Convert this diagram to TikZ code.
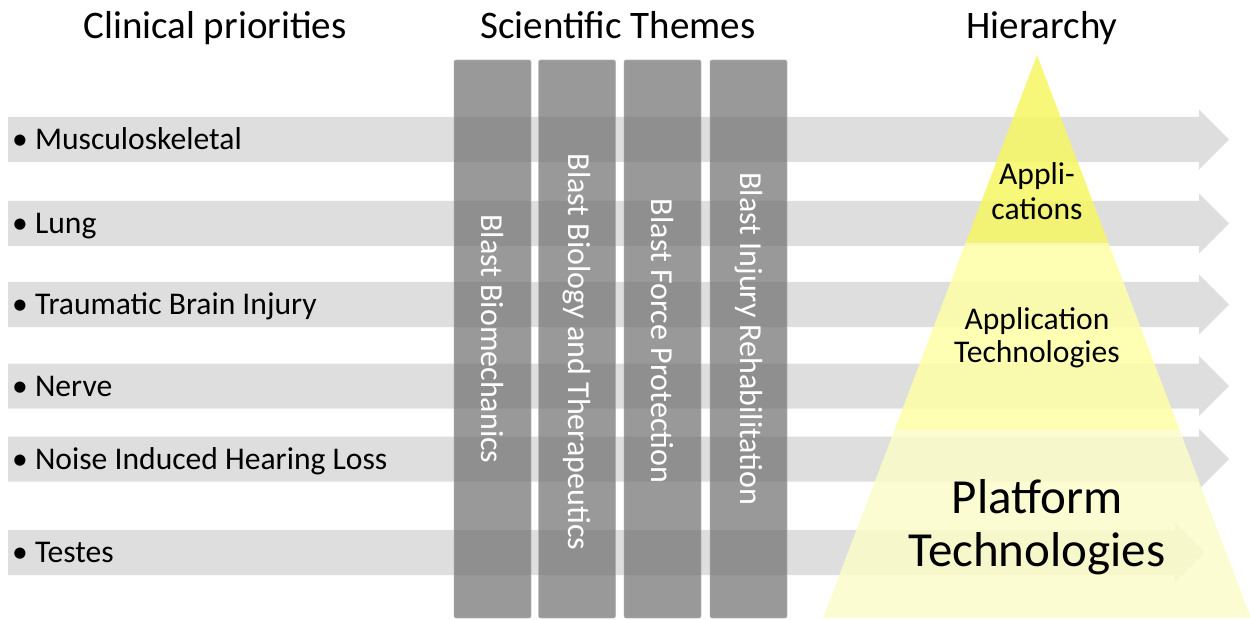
\documentclass[tikz,border=0pt]{standalone}
\usepackage{fontspec}
\setmainfont{Carlito}
\usetikzlibrary{calc}
\definecolor{bandgray}{RGB}{222,222,222}
\definecolor{themegray}{RGB}{110,110,110}
\definecolor{tiertop}{RGB}{246,246,99}
\definecolor{tiermid}{RGB}{255,255,167}
\definecolor{tierlow}{RGB}{252,252,202}
\tikzset{
    band arrow/.style = {fill=bandgray, draw=none, to path={
        ([yshift=22.5pt]\tikztostart) -- ([xshift=-30pt, yshift=22.5pt]\tikztotarget)
        -- ([xshift=-30pt, yshift=30pt]\tikztotarget) -- (\tikztotarget)
        -- ([xshift=-30pt, yshift=-30pt]\tikztotarget) -- ([xshift=-30pt, yshift=-22.5pt]\tikztotarget)
        -- ([yshift=-22.5pt]\tikztostart) -- cycle}},
}
\tikzset{
    heading/.style = {font=\fontsize{39}{45}\selectfont, inner sep=0pt, anchor=base},
    item/.style = {font=\fontsize{31.6}{36}\selectfont, inner sep=0pt, anchor=base west},
    theme/.style = {fill=themegray, fill opacity=0.7, text opacity=1, text=white,
        draw=gray!60, draw opacity=0.6, line width=0.8pt, rounded corners=2pt,
        minimum width=558pt, minimum height=77pt, inner sep=0pt, rotate=-90,
        font=\fontsize{32}{36}\selectfont},
    tier/.style = {fill opacity=0.85},
    tier text/.style = {inner sep=0pt, align=center},
}

\begin{document}
\begin{tikzpicture}[x=1pt, y=-1pt]
                \useasboundingbox (0,0) rectangle (1250,620);

                % clinical priority bands
                \path[band arrow] (8,139.5) to (1229,139.5);
                \path[band arrow] (8,223.5) to (1229,223.5);
                \path[band arrow] (8,304.5) to (1229,304.5);
                \path[band arrow] (8,386) to (1229,386);
                \path[band arrow] (8,459) to (1229,459);
                \path[band arrow] (8,552.5) to (1205,552.5);

                \node[heading] (clinical) at (215,39) {Clinical priorities};
                \node[heading] (themes) at (618,39) {Scientific Themes};
                \node[heading] (hierarchy) at (1042,39) {Hierarchy};

                \node[item] (musc) at (12,149.5) {• Musculoskeletal};
                \node[item] (lung) at (12,233.5) {• Lung};
                \node[item] (tbi) at (12,314.5) {• Traumatic Brain Injury};
                \node[item] (nerve) at (12,396) {• Nerve};
                \node[item] (nihl) at (12,469) {• Noise Induced Hearing Loss};
                \node[item] (testes) at (12,562.5) {• Testes};

                % scientific themes
                \node[theme] (biomech) at (492.5,339) {Blast Biomechanics};
                \node[theme] (biotherap) at (577,339) {\hspace*{26pt}Blast Biology and Therapeutics};
                \node[theme] (force) at (662.5,339) {\hspace*{4pt}Blast Force Protection};
                \node[theme] (rehab) at (748.5,339) {Blast Injury Rehabilitation};

                % hierarchy pyramid
                \coordinate (apex) at (1037,55);
                \coordinate (bl) at (823,618);
                \coordinate (br) at (1251,618);
                \fill[tierlow, tier] ($(apex)!2/3!(bl)$) -- ($(apex)!2/3!(br)$) -- (br) -- (bl) -- cycle;
                \fill[tiermid, tier] ($(apex)!1/3!(bl)$) -- ($(apex)!1/3!(br)$)
                    -- ($(apex)!2/3!(br)$) -- ($(apex)!2/3!(bl)$) -- cycle;
                \fill[tiertop, tier] (apex) -- ($(apex)!1/3!(br)$) -- ($(apex)!1/3!(bl)$) -- cycle;

                \node[tier text, font=\fontsize{31.6}{35.6}\selectfont] (apps) at (1037,191.3) {Appli-\\cations};
                \node[tier text, font=\fontsize{31.6}{33}\selectfont] (apptech) at (1037,337.8) {Application\\Technologies};
                \node[tier text, font=\fontsize{49}{53.5}\selectfont] (platform) at (1037,527.2) {Platform\\Technologies};
            \end{tikzpicture}
\end{document}
